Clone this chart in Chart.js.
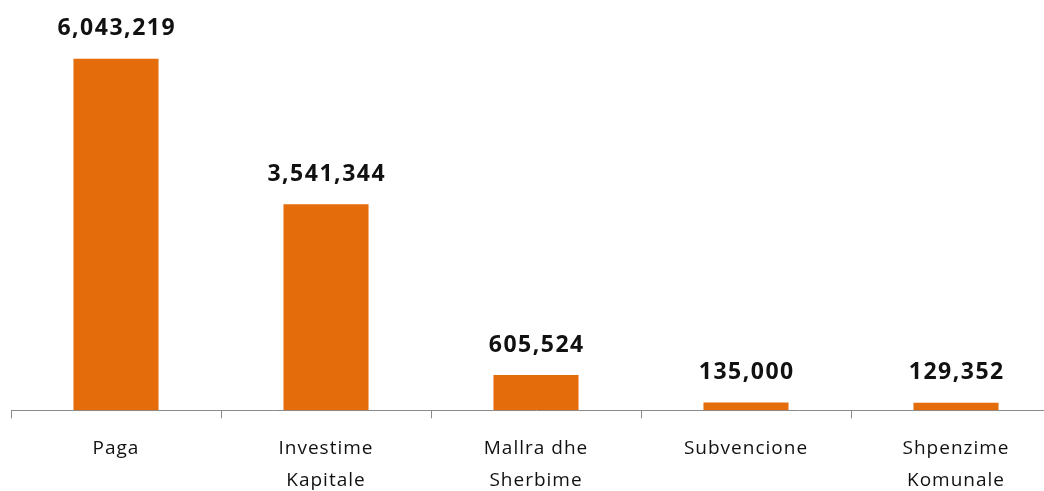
<!DOCTYPE html>
<html>
<head>
<meta charset="utf-8">
<script src="https://cdn.jsdelivr.net/npm/chart.js@4"></script>
<style>
  html, body { margin: 0; padding: 0; background: #fff; overflow: hidden; }
  #wrap { position: relative; width: 1072px; height: 511px; }
</style>
</head>
<body>
<div id="wrap"><canvas id="chart01"></canvas></div>
<script>
const categories = [
    ['Paga'],
    ['Investime', 'Kapitale'],
    ['Mallra dhe', 'Sherbime'],
    ['Subvencione'],
    ['Shpenzime', 'Komunale']
]
const amounts = [6043219, 3541344, 605524, 135000, 129352]

const barColor = '#E46C0A'

// value labels above each bar
const valueLabels = {
    id: 'valueLabels',
    beforeDraw(chart) {
        chart.ctx.letterSpacing = '1px'
    },
    afterDatasetsDraw(chart) {
        const ctx = chart.ctx
        const meta = chart.getDatasetMeta(0)
        ctx.save()
        ctx.letterSpacing = '1.5px'
        ctx.font = 'bold 23px "Open Sans"'
        ctx.fillStyle = '#111'
        ctx.textAlign = 'center'
        ctx.textBaseline = 'middle'
        meta.data.forEach((bar, i) => {
            ctx.fillText(amounts[i].toLocaleString('en-US'), bar.x + 0.75, bar.y - 30)
        })
        ctx.restore()
    }
}

const chart01 = document.getElementById('chart01').getContext('2d')

new Chart(chart01, {
    type: 'bar',
    data: {
        labels: categories,
        datasets: [{
            data: amounts,
            backgroundColor: barColor,
            borderWidth: 0,
            categoryPercentage: 1,
            barPercentage: 0.405
        }]
    },
    options: {
        responsive: true,
        maintainAspectRatio: false,
        animation: false,
        layout: { padding: { top: 3, left: 11, right: 11, bottom: 0 } },
        plugins: {
            legend: { display: false },
            tooltip: { enabled: false }
        },
        scales: {
            x: {
                grid: {
                    display: true,
                    drawOnChartArea: false,
                    offset: true,
                    tickLength: 8,
                    color: '#8a8a8a'
                },
                border: { display: true, color: '#8a8a8a', width: 1 },
                ticks: {
                    color: '#111',
                    padding: 15,
                    font: { family: '"Open Sans"', size: 19, lineHeight: 1.65 }
                }
            },
            y: {
                display: false,
                min: 0,
                max: 7000000
            }
        }
    },
    plugins: [valueLabels]
});
</script>
</body>
</html>
